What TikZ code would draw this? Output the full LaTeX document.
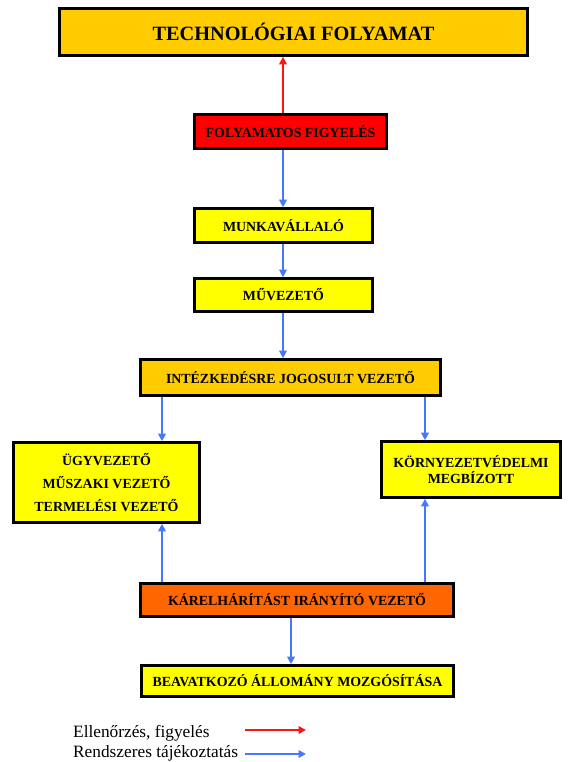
\documentclass[tikz,border=0pt]{standalone}
\usepackage{fontspec}
\setmainfont{Liberation Serif}
\usetikzlibrary{arrows.meta}
\definecolor{gold}{RGB}{255,204,0}
\definecolor{alarmred}{RGB}{255,0,0}
\definecolor{boxyellow}{RGB}{255,255,0}
\definecolor{boxorange}{RGB}{255,102,0}
\definecolor{infoblue}{RGB}{70,120,255}
\definecolor{checkred}{RGB}{255,20,20}
\tikzset{
  flowbox/.style={draw=black, line width=2.6pt, inner sep=0pt, align=center,
    font=\bfseries\fontsize{13.9}{16}\selectfont, text=black},
  checkarrow/.style={draw=checkred, line width=2pt, -{Triangle[length=7.5pt,width=7.5pt]}},
  infoarrow/.style={draw=infoblue, line width=2.2pt, -{Triangle[length=7.5pt,width=7.5pt]}},
  legendtext/.style={anchor=west, inner sep=0pt, font=\fontsize{17.3}{20}\selectfont}
}
\begin{document}
\begin{tikzpicture}[x=1pt, y=-1pt]
\useasboundingbox (0,0) rectangle (570,762);

% process chain
\node[flowbox, fill=gold, minimum width=468pt, minimum height=47pt,
      font=\bfseries\fontsize{20.3}{24}\selectfont] (tech) at (293.5,32) {TECHNOLÓGIAI FOLYAMAT};
\node[flowbox, fill=alarmred, minimum width=192pt, minimum height=34pt] (fig) at (290.5,131.5) {FOLYAMATOS FIGYELÉS};
\node[flowbox, fill=boxyellow, minimum width=178pt, minimum height=34pt] (munka) at (283.5,225.5) {MUNKAVÁLLALÓ};
\node[flowbox, fill=boxyellow, minimum width=178pt, minimum height=33pt] (muv) at (283.5,295) {MŰVEZETŐ};
\node[flowbox, fill=gold, minimum width=300pt, minimum height=36pt] (intez) at (290.5,377.5) {INTÉZKEDÉSRE JOGOSULT VEZETŐ};
\node[flowbox, fill=boxyellow, minimum width=186pt, minimum height=80pt,
      font=\bfseries\fontsize{13.9}{23}\selectfont] (ugy) at (106.5,482.5) {ÜGYVEZETŐ\\MŰSZAKI VEZETŐ\\TERMELÉSI VEZETŐ};
\node[flowbox, fill=boxyellow, minimum width=179pt, minimum height=56pt] (korny) at (471,469.5) {KÖRNYEZETVÉDELMI\\MEGBÍZOTT};
\node[flowbox, fill=boxorange, minimum width=313pt, minimum height=33pt] (karel) at (297,600) {KÁRELHÁRÍTÁST IRÁNYÍTÓ VEZETŐ};
\node[flowbox, fill=boxyellow, minimum width=312pt, minimum height=31pt] (beav) at (297.5,681) {BEAVATKOZÓ ÁLLOMÁNY MOZGÓSÍTÁSA};

% columns of the vertical connectors
\coordinate (mx) at (283,0);
\coordinate (lx) at (162,0);
\coordinate (rx) at (425,0);
\coordinate (bx) at (291,0);

% connectors
\draw[checkarrow] (mx |- fig.north) -- (mx |- tech.south);
\draw[infoarrow] (mx |- fig.south) -- (mx |- munka.north);
\draw[infoarrow] (mx |- munka.south) -- (mx |- muv.north);
\draw[infoarrow] (mx |- muv.south) -- (mx |- intez.north);
\draw[infoarrow] (lx |- intez.south) -- (lx |- ugy.north);
\draw[infoarrow] (rx |- intez.south) -- (rx |- korny.north);
\draw[infoarrow] (lx |- karel.north) -- (lx |- ugy.south);
\draw[infoarrow] (rx |- karel.north) -- (rx |- korny.south);
\draw[infoarrow] (bx |- karel.south) -- (bx |- beav.north);

% legend
\node[legendtext] (lgcheck) at (73,733) {Ellenőrzés, figyelés};
\node[legendtext] (lginfo) at (73,753) {Rendszeres tájékoztatás};
\coordinate (lcs) at (245,730);
\coordinate (lce) at (306,730);
\coordinate (lis) at (245,754);
\coordinate (lie) at (306,754);
\draw[checkarrow] (lcs) -- (lce);
\draw[infoarrow] (lis) -- (lie);
\end{tikzpicture}
\end{document}
